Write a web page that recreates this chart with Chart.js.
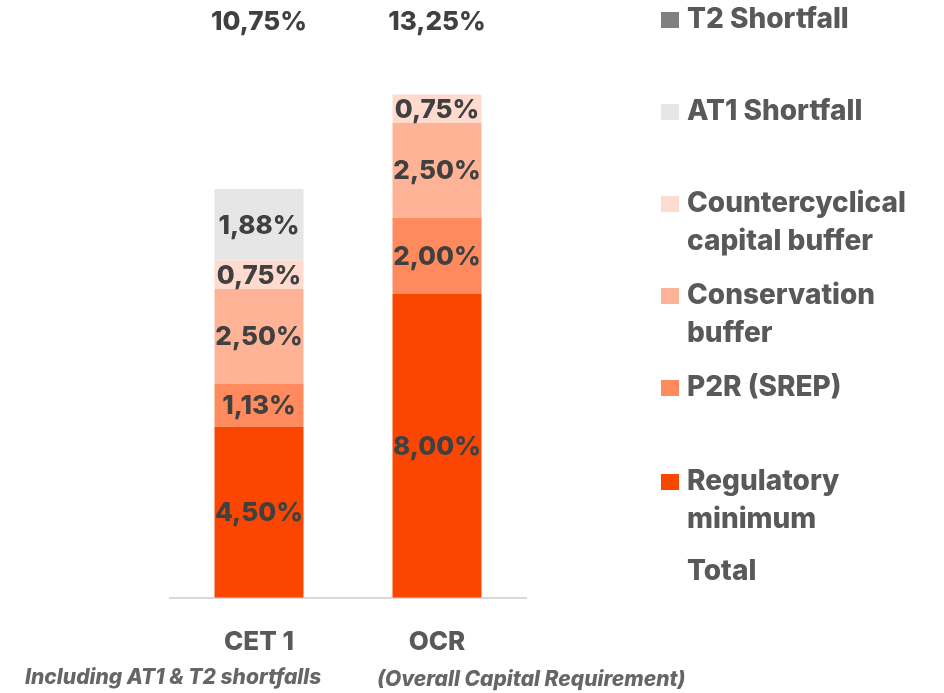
<html>
<head>
<script src="https://cdn.jsdelivr.net/npm/chart.js@4.4.1/dist/chart.umd.min.js"></script>
<style>
  body { margin: 0; background: #ffffff; }
  #wrap { position: relative; width: 944px; height: 693px; }
</style>
</head>
<body>
<div id="wrap"><canvas id="capital-chart"></canvas></div>

<script>
// categories along the x axis
var categories = ["CET 1", "OCR"]
var subtitles = ["Including AT1 & T2 shortfalls", "(Overall Capital Requirement)"]

// stacked series, bottom to top (values in %)
var regulatoryMinimum = [4.50, 8.00]
var p2rSrep = [1.13, 2.00]
var conservationBuffer = [2.50, 2.50]
var countercyclicalBuffer = [0.75, 0.75]
var at1Shortfall = [1.88, 0]
var t2Shortfall = [0, 0]

// totals printed above the bars
var totals = [10.75, 13.25]

// legend, top to bottom
var legendLines = [
  ["T2 Shortfall"],
  ["AT1 Shortfall"],
  ["Countercyclical", "capital buffer"],
  ["Conservation", "buffer"],
  ["P2R (SREP)"],
  ["Regulatory", "minimum"],
  ["Total"]
]

var colors = {
  reg: "#FA4600",
  p2r: "#FF8A5E",
  cons: "#FFB396",
  ccb: "#FFDBCF",
  at1: "#E6E6E6",
  t2: "#808080"
}
var legendColors = [colors.t2, colors.at1, colors.ccb, colors.cons, colors.p2r, colors.reg, null]

function fmt(v){
  return v.toFixed(2).replace(".", ",") + "%"
}

var FONT = "Inter, 'Open Sans', 'DejaVu Sans', sans-serif"

var labelPlugin = {
  id: "labels",
  afterDatasetsDraw: function(chart){
    var ctx = chart.ctx
    ctx.save()
    ctx.textAlign = "center"
    ctx.textBaseline = "middle"
    ctx.font = "800 26px " + FONT
    ctx.fillStyle = "#404040"
    chart.data.datasets.forEach(function(ds, i){
      var meta = chart.getDatasetMeta(i)
      meta.data.forEach(function(bar, j){
        var v = ds.data[j]
        if (!v) return
        ctx.fillText(fmt(v), bar.x, (bar.y + bar.base) / 2 + 1)
      })
    })
    // totals
    var first = chart.getDatasetMeta(0)
    first.data.forEach(function(bar, j){
      ctx.fillText(fmt(totals[j]), bar.x, 22)
    })
    ctx.restore()
  },
  afterDraw: function(chart){
    var ctx = chart.ctx
    ctx.save()
    // subtitles under category names
    ctx.font = "italic 800 21px " + FONT
    ctx.fillStyle = "#666666"
    ctx.textBaseline = "middle"
    ctx.textAlign = "left"
    ctx.fillText(subtitles[0], 25, 678)
    ctx.fillText(subtitles[1], 377, 680)

    // legend
    ctx.font = "800 28px " + FONT
    for (var i = 0; i < legendLines.length; i++){
      var y = 20 + i * 92
      if (i == 5) y += 2
      if (legendColors[i]){
        ctx.fillStyle = legendColors[i]
        ctx.fillRect(661, y - 8, 18, 16)
      }
      ctx.fillStyle = "#595959"
      for (var k = 0; k < legendLines[i].length; k++){
        ctx.fillText(legendLines[i][k], 687, y + k * 38)
      }
    }
    ctx.restore()
  }
}

function series(label, data, color){
  return {
    label: label,
    data: data,
    backgroundColor: color,
    borderWidth: 0,
    categoryPercentage: 1.0,
    barPercentage: 0.5
  }
}

Chart.defaults.font.family = FONT

new Chart(document.getElementById("capital-chart"), {
  type: "bar",
  data: {
    labels: categories,
    datasets: [
      series("Regulatory minimum", regulatoryMinimum, colors.reg),
      series("P2R (SREP)", p2rSrep, colors.p2r),
      series("Conservation buffer", conservationBuffer, colors.cons),
      series("Countercyclical capital buffer", countercyclicalBuffer, colors.ccb),
      series("AT1 Shortfall", at1Shortfall, colors.at1),
      series("T2 Shortfall", t2Shortfall, colors.t2)
    ]
  },
  options: {
    responsive: true,
    maintainAspectRatio: false,
    animation: false,
    layout: { padding: { left: 170, right: 418, top: 66, bottom: 14 } },
    plugins: {
      legend: { display: false },
      tooltip: { enabled: false }
    },
    scales: {
      x: {
        stacked: true,
        grid: { display: false },
        border: { display: true, color: "#D9D9D9", width: 2 },
        ticks: {
          padding: 21,
          color: "#595959",
          font: { size: 26, weight: "800" }
        }
      },
      y: {
        stacked: true,
        display: false,
        min: 0,
        max: 14
      }
    }
  },
  plugins: [labelPlugin]
})
</script>
</body>
</html>
